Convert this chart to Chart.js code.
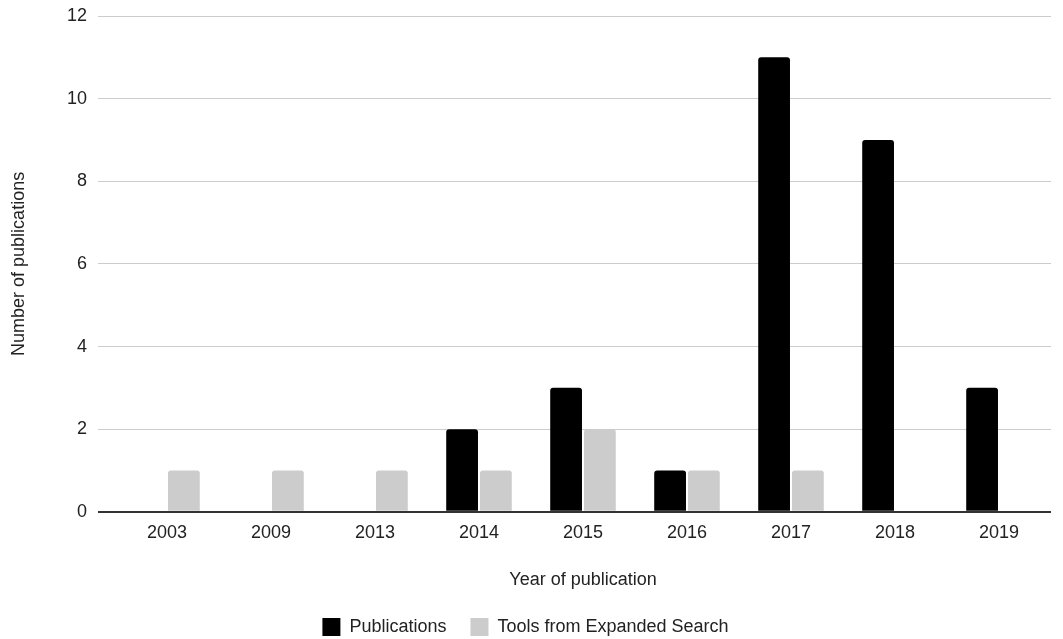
<!DOCTYPE html>
<html>
<head>
<meta charset="utf-8">
<script src="https://cdn.jsdelivr.net/npm/chart.js@4/dist/chart.umd.min.js"></script>
<style>
  html, body { margin: 0; padding: 0; background: #fff; }
</style>
</head>
<body>
<canvas id="chart" width="1063" height="639"></canvas>
<script>
const years = ['2003', '2009', '2013', '2014', '2015', '2016', '2017', '2018', '2019'];
const publications = [0, 0, 0, 2, 3, 1, 11, 9, 3];
const expandedSearch = [1, 1, 1, 1, 2, 1, 1, 0, 0];

const font = { family: 'Arial, "Liberation Sans", sans-serif', size: 18 };

const ctx = document.getElementById('chart').getContext('2d');

new Chart(ctx, {
  type: 'bar',
  data: {
    labels: years,
    datasets: [
      {
        label: 'Publications',
        data: publications,
        backgroundColor: '#000000',
        borderRadius: 3,
        categoryPercentage: 0.65,
        barPercentage: 0.94,
      },
      {
        label: 'Tools from Expanded Search',
        data: expandedSearch,
        backgroundColor: '#cccccc',
        borderRadius: 3,
        categoryPercentage: 0.65,
        barPercentage: 0.94,
      },
    ],
  },
  options: {
    responsive: false,
    animation: false,
    // negative bottom padding lets the legend sit close to the edge
    layout: { padding: { top: 16, right: 12, left: 0, bottom: -7 } },
    plugins: {
      tooltip: { enabled: false },
      legend: {
        position: 'bottom',
        labels: {
          color: '#222',
          font,
          boxWidth: 18,
          boxHeight: 18,
          padding: 24,
        },
      },
    },
    scales: {
      x: {
        grid: { display: false, drawTicks: false },
        border: { display: false },
        ticks: { color: '#222', font, padding: 10 },
        title: {
          display: true,
          text: 'Year of publication',
          color: '#222',
          font,
          padding: { top: 16, bottom: 3 },
        },
      },
      y: {
        min: 0,
        max: 12,
        ticks: { stepSize: 2, color: '#222', font, padding: 11 },
        grid: {
          color: (c) => (c.tick && c.tick.value === 0 ? '#333333' : '#cccccc'),
          lineWidth: (c) => (c.tick && c.tick.value === 0 ? 2 : 1),
          drawTicks: true,
          tickLength: 17,
        },
        border: { display: false },
        title: {
          display: true,
          text: 'Number of publications',
          color: '#222',
          font,
          padding: { top: 8, bottom: 0 },
        },
        afterFit: (scale) => {
          scale.width = 115;
          scale.paddingTop = 0;
          scale.paddingBottom = 0;
        },
      },
    },
  },
});
</script>
</body>
</html>
